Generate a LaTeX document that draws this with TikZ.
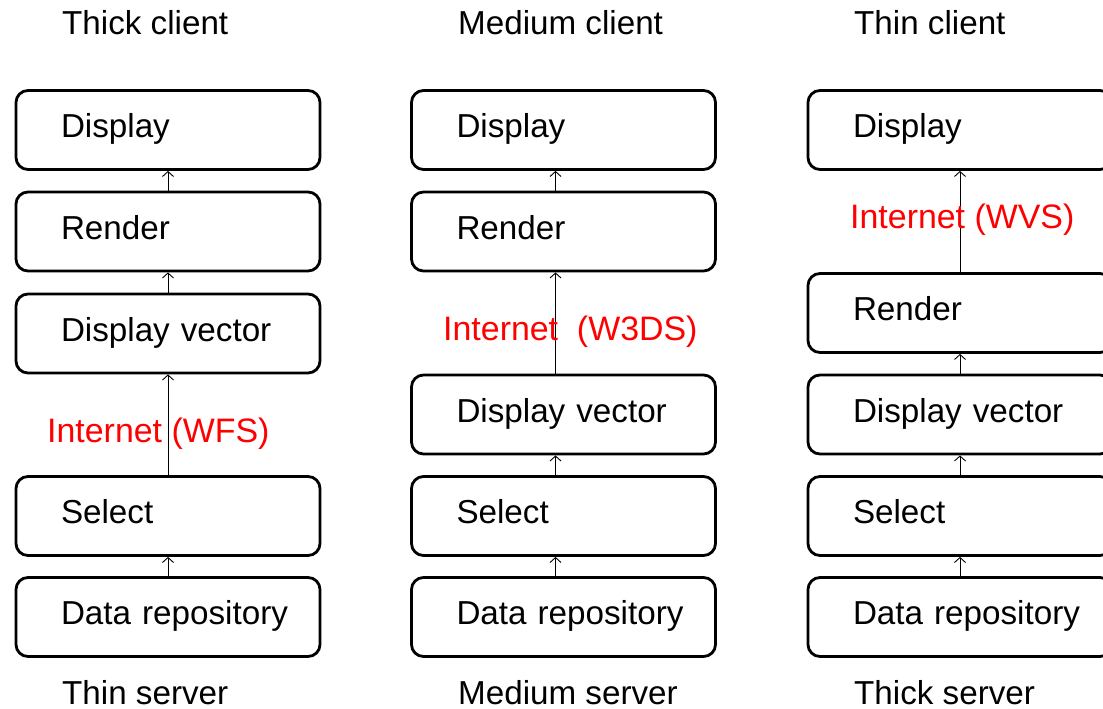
\documentclass[tikz,border=0pt]{standalone}
\usepackage{fontspec}
\setmainfont{Liberation Sans}
\usetikzlibrary{arrows.meta,calc}
\begin{document}
\begin{tikzpicture}[x=1pt,y=-1pt,
  box/.style={draw, line width=2.8pt, rounded corners=12pt, minimum width=304pt, minimum height=79pt,
    text width=258pt, inner xsep=23pt, align=left, text height=24pt, text depth=9pt,
    font=\fontsize{33.2}{40}\selectfont, execute at begin node={\hspace*{22pt}}},
  lbl/.style={anchor=base west, inner sep=0pt, font=\fontsize{33.2}{40}\selectfont},
  net/.style={lbl, text=red, font=\fontsize{33.9}{40}\selectfont},
  arr/.style={-{Straight Barb[length=5pt,width=11pt]}, line width=0.9pt}]
\clip (0,0) rectangle (1103,709);
% titles
\node[lbl] (t1) at (62,35) {Thick client};
\node[lbl] (t2) at (458,35) {Medium client};
\node[lbl] (t3) at (854,35) {Thin client};
\node[lbl] (b1) at (62,704) {Thin server};
\node[lbl] (b2) at (458,704) {Medium server};
\node[lbl] (b3) at (854,704) {Thick server};
% left column
\node[box] (l1) at (168,130) {Display};
\node[box] (l2) at (168,231.5) {Render};
\node[box] (l3) at (168,333.5) {Display vector};
\node[box] (l4) at (168,516) {Select};
\node[box] (l5) at (168,617) {Data repository};
\draw[arr] (l2.north) -- (l1.south);
\draw[arr] (l3.north) -- (l2.south);
\draw[arr] (l4.north) -- (l3.south);
\draw[arr] (l5.north) -- (l4.south);
\node[net] (n1) at (47,442) {Internet (WFS)};
% middle column
\node[box] (m1) at (563.5,130) {Display};
\node[box] (m2) at (563.5,231.5) {Render};
\node[box] (m3) at (563.5,414.5) {Display vector};
\node[box] (m4) at (563.5,516) {Select};
\node[box] (m5) at (563.5,617) {Data repository};
\draw[arr] ([xshift=-8pt]m2.north) -- ([xshift=-8pt]m1.south);
\draw[arr] ([xshift=-8pt]m3.north) -- ([xshift=-8pt]m2.south);
\draw[arr] ([xshift=-8pt]m4.north) -- ([xshift=-8pt]m3.south);
\draw[arr] ([xshift=-8pt]m5.north) -- ([xshift=-8pt]m4.south);
\node[net] (n2) at (443,340) {Internet\ \ (W3DS)};
% right column
\node[box] (r1) at (960,130) {Display};
\node[box] (r2) at (960,313) {Render};
\node[box] (r3) at (960,414.5) {Display vector};
\node[box] (r4) at (960,516) {Select};
\node[box] (r5) at (960,617) {Data repository};
\draw[arr] (r2.north) -- (r1.south);
\draw[arr] (r3.north) -- (r2.south);
\draw[arr] (r4.north) -- (r3.south);
\draw[arr] (r5.north) -- (r4.south);
\node[net] (n3) at (850,228) {Internet (WVS)};
\end{tikzpicture}
\end{document}
